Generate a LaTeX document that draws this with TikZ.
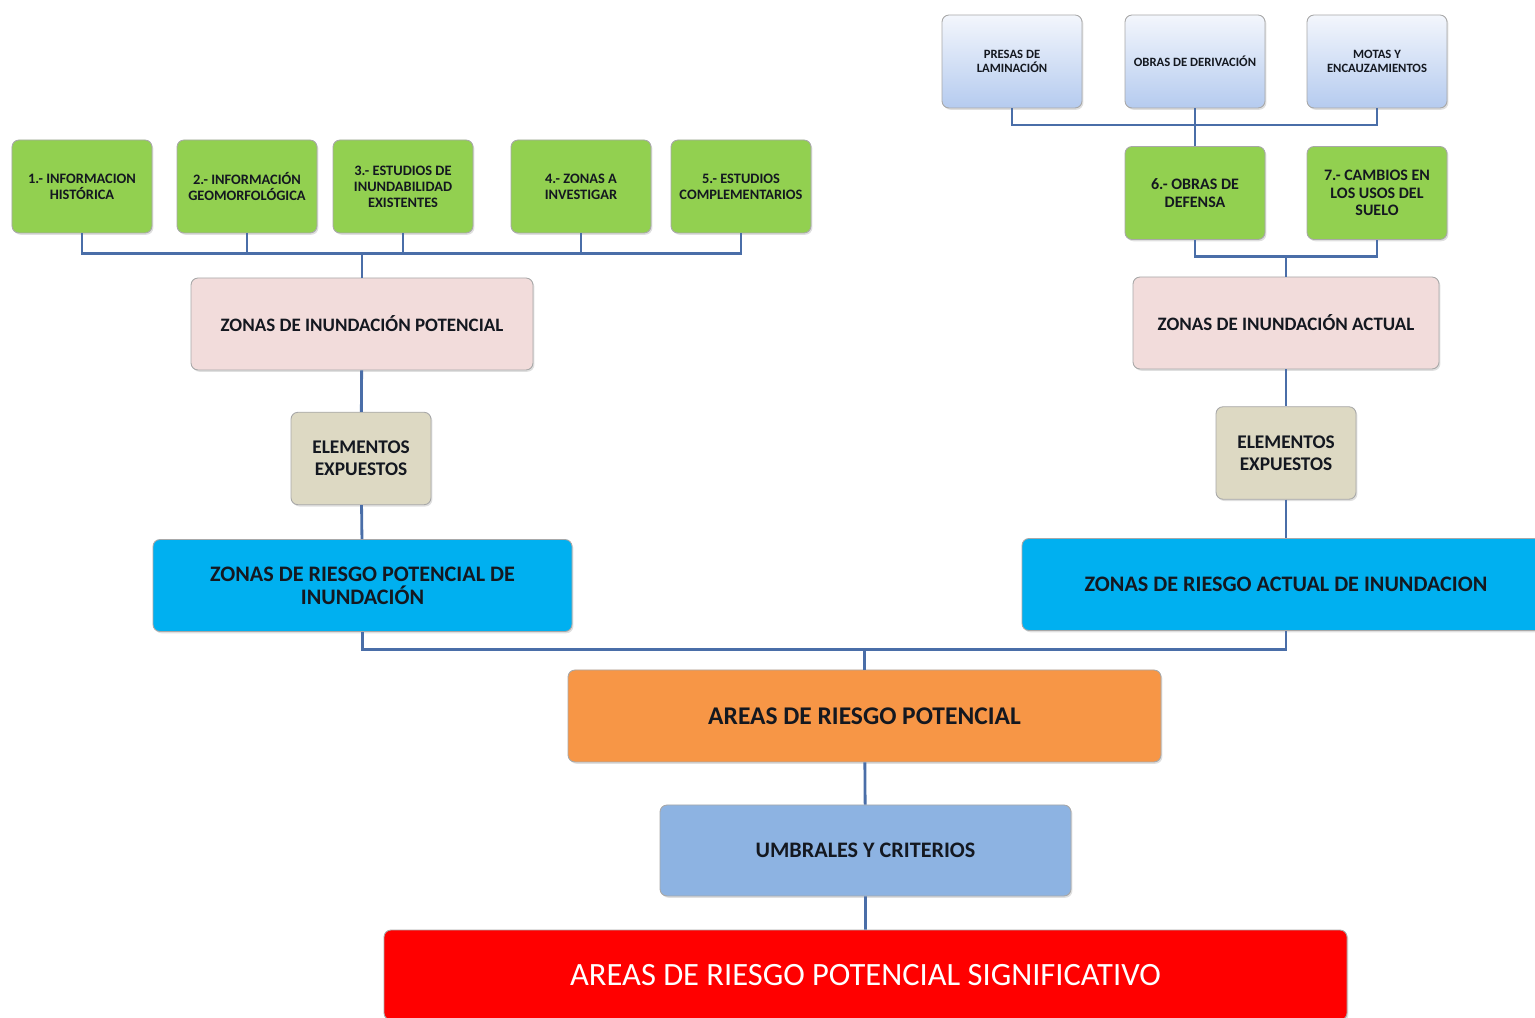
\documentclass[tikz,border=0pt]{standalone}
\usepackage{fontspec}
\setmainfont{Carlito}
\usetikzlibrary{shadows}

\definecolor{verde}{HTML}{92D050}
\definecolor{rosa}{HTML}{F2DCDB}
\definecolor{arena}{HTML}{DDD9C3}
\definecolor{cian}{HTML}{00B0F0}
\definecolor{naranja}{HTML}{F79646}
\definecolor{celeste}{HTML}{8DB3E2}
\definecolor{rojo}{HTML}{FF0000}
\definecolor{obraarriba}{HTML}{F3F6FC}
\definecolor{obraabajo}{HTML}{B5CBEF}
\definecolor{linea}{HTML}{4A6EA8}
\definecolor{tinta}{HTML}{141820}
\definecolor{borde}{HTML}{A8A8A8}

\tikzset{
	caja/.style={draw=borde, line width=0.5pt, rounded corners=4pt, align=center, text=tinta,
		inner sep=2pt, drop shadow={opacity=0.25, shadow xshift=0.8pt, shadow yshift=-1pt}},
	estudio/.style={caja, fill=verde, minimum width=2.8cm, minimum height=1.86cm,
		font=\fontsize{8.2}{9.2}\selectfont\bfseries},
	obra/.style={caja, top color=obraarriba, bottom color=obraabajo, minimum width=2.8cm,
		minimum height=1.86cm, font=\fontsize{7.2}{8}\selectfont\bfseries},
	zona/.style={caja, fill=rosa, minimum height=1.84cm, font=\fontsize{10.8}{12}\selectfont\bfseries},
	expuesto/.style={caja, fill=arena, minimum width=2.8cm, minimum height=1.85cm,
		font=\fontsize{11}{12.5}\selectfont\bfseries},
	riesgo/.style={caja, fill=cian, minimum height=1.84cm, font=\fontsize{12.6}{13}\selectfont\bfseries},
	enlace/.style={draw=linea, line width=1.6pt},
}

\begin{document}
\begin{tikzpicture}
	\useasboundingbox (0,0) rectangle (30.7,-20.36);
	
	% zona potencial
	\node[estudio] (g1) at (1.64,-3.73) {1.- INFORMACION\\HISTÓRICA};
	\node[estudio] (g2) at (4.94,-3.73) {2.- INFORMACIÓN\\GEOMORFOLÓGICA};
	\node[estudio] (g3) at (8.06,-3.73) {3.- ESTUDIOS DE\\INUNDABILIDAD\\EXISTENTES};
	\node[estudio] (g4) at (11.62,-3.73) {4.- ZONAS A\\INVESTIGAR};
	\node[estudio] (g5) at (14.82,-3.73) {5.- ESTUDIOS\\COMPLEMENTARIOS};
	
	\node[zona, minimum width=6.84cm] (zip) at (7.24,-6.48) {ZONAS DE INUNDACIÓN POTENCIAL};
	\node[expuesto] (eeL) at (7.22,-9.17) {ELEMENTOS\\EXPUESTOS};
	\node[riesgo, minimum width=8.38cm] (zrp) at (7.25,-11.71) {ZONAS DE RIESGO POTENCIAL DE\\INUNDACIÓN};
	
	% zona actual
	\node[obra] (t1) at (20.24,-1.23) {PRESAS DE\\LAMINACIÓN};
	\node[obra] (t2) at (23.9,-1.23) {OBRAS DE DERIVACIÓN};
	\node[obra] (t3) at (27.54,-1.23) {MOTAS Y\\ENCAUZAMIENTOS};
	
	\node[estudio, font=\fontsize{9.1}{10}\selectfont\bfseries] (g6) at (23.9,-3.86) {6.- OBRAS DE\\DEFENSA};
	\node[estudio, font=\fontsize{9.1}{10}\selectfont\bfseries] (g7) at (27.54,-3.86) {7.- CAMBIOS EN\\LOS USOS DEL\\SUELO};
	
	\node[zona, minimum width=6.12cm] (zia) at (25.72,-6.46) {ZONAS DE INUNDACIÓN ACTUAL};
	\node[expuesto] (eeR) at (25.72,-9.06) {ELEMENTOS\\EXPUESTOS};
	\node[riesgo, minimum width=10.56cm] (zra) at (25.72,-11.69) {ZONAS DE RIESGO ACTUAL DE INUNDACION};
	
	% resultado
	\node[caja, fill=naranja, minimum width=11.86cm, minimum height=1.84cm,
		font=\fontsize{14.5}{16}\selectfont\bfseries] (arp) at (17.29,-14.32) {AREAS DE RIESGO POTENCIAL};
	\node[caja, fill=celeste, minimum width=8.22cm, minimum height=1.82cm,
		font=\fontsize{12.6}{14}\selectfont\bfseries] (umb) at (17.31,-17.01) {UMBRALES Y CRITERIOS};
	\node[caja, fill=rojo, text=white, minimum width=19.26cm, minimum height=1.8cm,
		font=\fontsize{18.5}{20}\selectfont] (arps) at (17.31,-19.5) {AREAS DE RIESGO POTENCIAL SIGNIFICATIVO};
	
	% conexiones
	\foreach \g in {g1,g2,g3,g4,g5}
		\draw[enlace] (zip.north) -- ++(0,0.48) -| (\g.south);
	\foreach \t in {t1,t2,t3}
		\draw[enlace] (g6.north) -- ++(0,0.42) -| (\t.south);
	\foreach \g in {g6,g7}
		\draw[enlace] (zia.north) -- ++(0,0.4) -| (\g.south);
	
	\draw[enlace] (zip) -- (eeL) -- (zrp);
	\draw[enlace] (zia) -- (eeR) -- (zra);
	
	\draw[enlace] (arp.north) -- ++(0,0.4) -| (zrp.south);
	\draw[enlace] (arp.north) -- ++(0,0.4) -| (zra.south);
	\draw[enlace] (arp) -- (umb) -- (arps);
\end{tikzpicture}
\end{document}
